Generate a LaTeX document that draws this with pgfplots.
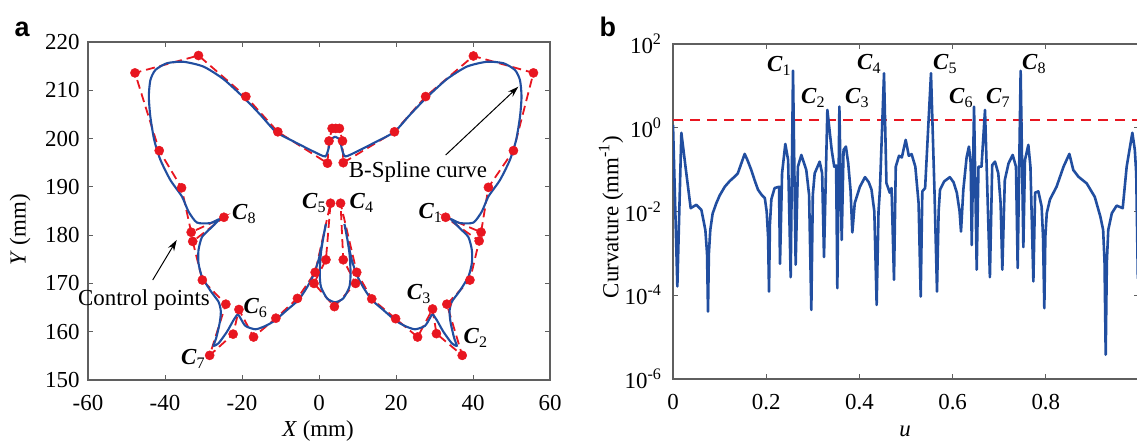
\documentclass[border=0pt]{standalone}
\usepackage{fontspec}
\setmainfont{Liberation Serif}
\setsansfont{Liberation Sans}
\usepackage{pgfplots}
\pgfplotsset{compat=1.18}
\usetikzlibrary{arrows.meta}
\definecolor{bl}{RGB}{33,78,160}
\definecolor{rd}{RGB}{232,22,32}
\definecolor{ax}{RGB}{95,95,95}
\newcommand{\CC}[1]{\textbf{\textit{C}}\textsubscript{#1}}
\newcommand{\fs}{\fontsize{23}{27}\selectfont}
\begin{document}
\begin{tikzpicture}
\pgfplotsset{every axis/.append style={scale only axis, axis line style={ax, line width=1.3bp}, tick style={ax, line width=1bp}, major tick length=5bp, tick align=inside, tick label style={font=\fs}, xticklabel style={yshift=-12bp}, yticklabel style={xshift=-5bp}, /pgf/number format/assume math mode=true}}
% ---------------- panel a ----------------
\begin{axis}[at={(88bp,63bp)}, anchor=south west, width=462bp, height=338bp,
  xmin=-60, xmax=60, ymin=150, ymax=220,
  xtick={-60,-40,...,60}, ytick={150,160,...,220}]
\addplot[rd, line width=1.8bp, dash pattern=on 9bp off 5bp] coordinates {
(3.4,202.1) (4.35,202.1) (5.3,202.1) (6.1,199.5) (6.3,195.0) (19.6,201.4) (27.7,208.7) (40.1,217.1) (55.7,213.6)
(50.5,197.5) (44.0,189.9) (42.1,180.6) (32.9,183.7) (41.6,178.8) (39.2,170.7) (33.2,165.7) (37.2,155.1)
(30.5,159.6) (29.5,164.7) (25.6,158.9) (19.9,162.7) (13.7,166.8) (9.8,172.3) (5.6,186.6) (6.3,174.9)
(9.5,170.0) (4.0,165.2) (-1.3,170.0) (1.8,174.9) (3.0,186.6) (-1.0,172.3) (-5.6,166.9) (-11.2,162.8)
(-17.0,158.9) (-20.8,164.6) (-22.3,159.5) (-28.4,155.1) (-24.2,165.7) (-30.3,170.7) (-32.8,178.7) (-24.7,183.7)
(-33.2,180.6) (-35.7,189.8) (-41.5,197.5) (-47.8,213.6) (-31.3,217.2) (-19.0,208.7) (-10.7,201.4) (2.2,194.9)
(2.6,199.5) (3.4,202.1)};
\addplot[bl, line width=2.1bp, smooth, tension=0.4] coordinates {
(4.2,200.4) (5.5,199.7) (5.9,198.0) (6.8,196.3) (9.8,197.3) (15.0,199.4) (19.6,201.4) (23.6,204.9)
(27.7,208.3) (33.2,212.3) (38.4,214.9) (43.6,215.9) (47.9,215.6) (50.9,214.2) (52.2,212.1) (52.6,208.7)
(52.2,204.5) (51.2,199.7) (49.6,195.6) (47.0,191.4) (44.0,188.0) (42.3,184.9) (40.1,182.6) (36.6,182.5)
(34.3,183.3) (36.6,181.4) (38.8,179.6) (39.7,176.9) (39.7,174.2) (38.8,171.4) (36.6,168.5) (34.5,166.2)
(33.9,164.2) (34.2,161.8) (35.1,158.7) (35.8,157.1) (34.5,157.6) (32.3,160.0) (30.6,162.4) (29.5,163.6)
(28.8,162.8) (27.5,161.2) (24.9,160.5) (22.3,161.2) (19.9,162.3) (16.7,164.5) (13.7,166.6) (11.5,169.2)
(9.8,171.8) (8.5,174.9) (7.4,179.0) (6.6,182.3) (7.0,180.8) (7.9,176.3) (8.2,172.1) (7.9,169.3)
(6.3,166.9) (4.2,166.1) (2.1,166.9) (0.5,169.3) (0.2,172.1) (0.5,176.3) (1.4,180.8) (1.8,182.3)
(1.0,179.0) (-0.1,174.9) (-1.4,171.8) (-3.1,169.2) (-5.3,166.6) (-8.3,164.5) (-11.5,162.3) (-13.9,161.2)
(-16.5,160.5) (-19.1,161.2) (-20.4,162.8) (-21.1,163.6) (-22.2,162.4) (-23.9,160.0) (-26.1,157.6) (-27.4,157.1)
(-26.7,158.7) (-25.8,161.8) (-25.5,164.2) (-26.1,166.2) (-28.2,168.5) (-30.4,171.4) (-31.3,174.2) (-31.3,176.9)
(-30.4,179.6) (-28.2,181.4) (-25.9,183.3) (-28.2,182.5) (-31.7,182.6) (-33.9,184.9) (-35.6,188.0) (-38.6,191.4)
(-41.2,195.6) (-42.8,199.7) (-43.8,204.5) (-44.2,208.7) (-43.8,212.1) (-42.5,214.2) (-39.5,215.6) (-35.2,215.9)
(-30.0,214.9) (-24.8,212.3) (-19.3,208.3) (-15.2,204.9) (-11.2,201.4) (-6.6,199.4) (-1.4,197.3) (1.6,196.3)
(2.5,198.0) (2.9,199.7) (4.2,200.4)};
\addplot[only marks, mark=*, mark size=4.6bp, mark options={draw=rd, fill=rd}] coordinates {
(3.4,202.1) (4.35,202.1) (5.3,202.1) (6.1,199.5) (6.3,195.0) (19.6,201.4) (27.7,208.7) (40.1,217.1) (55.7,213.6)
(50.5,197.5) (44.0,189.9) (42.1,180.6) (32.9,183.7) (41.6,178.8) (39.2,170.7) (33.2,165.7) (37.2,155.1)
(30.5,159.6) (29.5,164.7) (25.6,158.9) (19.9,162.7) (13.7,166.8) (9.8,172.3) (5.6,186.6) (6.3,174.9)
(9.5,170.0) (4.0,165.2) (-1.3,170.0) (1.8,174.9) (3.0,186.6) (-1.0,172.3) (-5.6,166.9) (-11.2,162.8)
(-17.0,158.9) (-20.8,164.6) (-22.3,159.5) (-28.4,155.1) (-24.2,165.7) (-30.3,170.7) (-32.8,178.7) (-24.7,183.7)
(-33.2,180.6) (-35.7,189.8) (-41.5,197.5) (-47.8,213.6) (-31.3,217.2) (-19.0,208.7) (-10.7,201.4) (2.2,194.9)
(2.6,199.5)};
\end{axis}
% ---------------- panel b ----------------
\begin{axis}[at={(673bp,64bp)}, anchor=south west, width=466bp, height=335bp,
  xmin=0, xmax=1, ymin=-6, ymax=2,
  xtick={0,0.2,0.4,0.6,0.8,1}, xticklabels={0,0.2,0.4,0.6,0.8,{}},
  ytick={-6,-4,-2,0,2}, yticklabel style={xshift=-3bp},
  yticklabels={10\textsuperscript{-6},10\textsuperscript{-4},10\textsuperscript{-2},10\textsuperscript{0},10\textsuperscript{2}}]
\addplot[rd, line width=1.8bp, dash pattern=on 10bp off 7bp] coordinates {(0,0.18) (1,0.18)};
\addplot[bl, line width=2.6bp, line join=round] coordinates {
(0,0.07) (0.0093,-3.79) (0.0179,-0.12) (0.0286,-1.09) (0.0379,-1.92) (0.0501,-1.84) (0.0608,-1.96) (0.0694,-2.44)
(0.073,-3.0) (0.0751,-4.39) (0.077,-3.0) (0.080,-2.44) (0.085,-2.05) (0.093,-1.80) (0.100,-1.62) (0.111,-1.41)
(0.122,-1.27) (0.132,-1.17) (0.139,-1.09) (0.146,-0.87) (0.1538,-0.625) (0.160,-0.78) (0.168,-1.01) (0.175,-1.25)
(0.1824,-1.48) (0.190,-1.60) (0.197,-1.68) (0.201,-2.0) (0.204,-2.6) (0.206,-3.91) (0.208,-2.3) (0.211,-1.71)
(0.218,-1.44) (0.2275,-1.41) (0.2296,-3.25) (0.234,-1.09) (0.241,-0.387) (0.247,-0.77) (0.2525,-3.57) (0.2575,1.36)
(0.2632,-3.27) (0.268,-0.93) (0.2754,-0.65) (0.286,-1.01) (0.292,-1.6) (0.2968,-4.35) (0.300,-1.6) (0.304,-1.09)
(0.3147,-0.81) (0.320,-1.09) (0.324,-3.09) (0.3312,0.425) (0.3405,-0.53) (0.346,-0.93) (0.350,-0.90) (0.3526,-3.83)
(0.357,0.504) (0.362,-2.68) (0.366,-0.53) (0.371,-0.45) (0.376,-0.85) (0.381,-1.5) (0.3848,-2.50) (0.390,-1.80)
(0.401,-1.41) (0.412,-1.18) (0.420,-1.30) (0.426,-1.48) (0.432,-2.0) (0.437,-4.23) (0.441,-2.0) (0.444,-1.48)
(0.4528,1.30) (0.458,-1.32) (0.465,-1.55) (0.469,-1.44) (0.4742,-3.63) (0.478,-0.93) (0.485,-0.67) (0.491,-0.71)
(0.4993,-0.29) (0.506,-0.67) (0.512,-0.63) (0.520,-0.93) (0.527,-1.8) (0.5315,-4.03) (0.535,-1.52) (0.541,-1.44)
(0.5536,1.30) (0.561,-1.48) (0.5665,-3.91) (0.570,-2.0) (0.573,-1.48) (0.582,-1.28) (0.594,-1.18) (0.602,-1.30)
(0.609,-1.55) (0.615,-2.0) (0.618,-2.48) (0.623,-1.48) (0.630,-0.71) (0.635,-0.45) (0.6388,-0.85) (0.641,-2.80)
(0.646,0.504) (0.6517,-3.39) (0.6555,-0.93) (0.662,-0.93) (0.6695,0.425) (0.680,-3.57) (0.685,-0.89) (0.691,-0.81)
(0.698,-1.09) (0.703,-1.8) (0.7067,-3.39) (0.712,-1.25) (0.720,-0.85) (0.7289,-0.65) (0.736,-0.93) (0.7396,-3.35)
(0.746,1.36) (0.7518,-2.85) (0.7553,-0.77) (0.7625,-0.41) (0.767,-0.93) (0.7733,-3.67) (0.777,-1.55) (0.784,-1.52)
(0.791,-1.88) (0.794,-2.6) (0.7968,-4.31) (0.799,-2.6) (0.802,-2.04) (0.809,-1.71) (0.823,-1.41) (0.838,-0.93)
(0.8505,-0.625) (0.859,-1.01) (0.870,-1.17) (0.8878,-1.33) (0.905,-1.65) (0.917,-2.12) (0.923,-2.44) (0.926,-3.2)
(0.9285,-5.42) (0.931,-3.2) (0.934,-2.44) (0.9417,-2.04) (0.952,-1.86) (0.965,-1.92) (0.9735,-0.93) (0.9857,-0.12)
(0.991,-0.53) (0.994,-1.09) (0.9975,-3.6) (1.0,0.07)};
\end{axis}
% ---------------- texts ----------------
\begin{scope}[x=1bp,y=1bp]
\node[font=\fontsize{27}{31}\selectfont\sffamily\bfseries, anchor=base west] at (11,406) {a};
\node[font=\fontsize{27}{31}\selectfont\sffamily\bfseries, anchor=base west] at (596,406) {b};
\node[font=\fs] at (318,12) {\textit{X} (mm)};
\node[font=\fs, rotate=90] at (20,213) {\textit{Y} (mm)};
\node[font=\fs, rotate=90] at (611,226) {Curvature (mm\textsuperscript{-1})};
\node[font=\fs] at (905,12) {\textit{u}};
\node[font=\fs] at (418,271) {B-Spline curve};
\node[font=\fs] at (144,143) {Control points};
\draw[-{Stealth[length=11bp,width=7bp]}, line width=1bp] (445.7,288) -- (518.3,356.3);
\draw[-{Stealth[length=11bp,width=7bp]}, line width=1bp] (152.7,163) -- (176.7,203);
% C labels panel a
\node[font=\fs, anchor=base west, inner sep=0pt] at (232,223) {\CC{8}};
\node[font=\fs, anchor=base west, inner sep=0pt] at (418.3,224.7) {\CC{1}};
\node[font=\fs, anchor=base west, inner sep=0pt] at (302,234) {\CC{5}};
\node[font=\fs, anchor=base west, inner sep=0pt] at (349.5,234.5) {\CC{4}};
\node[font=\fs, anchor=base west, inner sep=0pt] at (243.3,129.7) {\CC{6}};
\node[font=\fs, anchor=base west, inner sep=0pt] at (181,78) {\CC{7}};
\node[font=\fs, anchor=base west, inner sep=0pt] at (406.7,143) {\CC{3}};
\node[font=\fs, anchor=base west, inner sep=0pt] at (463.3,99) {\CC{2}};
% C labels panel b
\node[font=\fs, anchor=base west, inner sep=0pt] at (767,371.3) {\CC{1}};
\node[font=\fs, anchor=base west, inner sep=0pt] at (801,339.7) {\CC{2}};
\node[font=\fs, anchor=base west, inner sep=0pt] at (845,339.7) {\CC{3}};
\node[font=\fs, anchor=base west, inner sep=0pt] at (857,373.7) {\CC{4}};
\node[font=\fs, anchor=base west, inner sep=0pt] at (933,373.7) {\CC{5}};
\node[font=\fs, anchor=base west, inner sep=0pt] at (949,339.7) {\CC{6}};
\node[font=\fs, anchor=base west, inner sep=0pt] at (986,339.7) {\CC{7}};
\node[font=\fs, anchor=base west, inner sep=0pt] at (1022,373.7) {\CC{8}};
\pgfresetboundingbox
\useasboundingbox (0,0) rectangle (1137,443);
\end{scope}
\end{tikzpicture}
\end{document}
